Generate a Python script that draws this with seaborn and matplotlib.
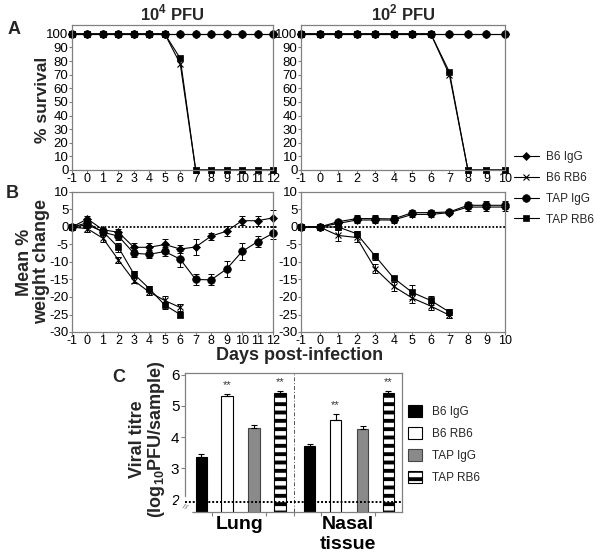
import numpy as np
import pandas as pd
import seaborn as sns
import matplotlib.pyplot as plt
import matplotlib.transforms as mtransforms
from matplotlib.lines import Line2D
from matplotlib.patches import Patch

# ---- dados ----
grupos = ['B6 IgG', 'B6 RB6', 'TAP IgG', 'TAP RB6']

# A: sobrevivencia
dias_hi = [-1, 0, 1, 2, 3, 4, 5, 6, 7, 8, 9, 10, 11, 12]   # 10^4 PFU
dias_lo = [-1, 0, 1, 2, 3, 4, 5, 6, 7, 8, 9, 10]           # 10^2 PFU

surv_hi = {
    'B6 IgG': [100, 100, 100, 100, 100, 100, 100, 100, 100, 100, 100, 100, 100, 100],
    'B6 RB6': [100, 100, 100, 100, 100, 100, 100, 78, 0, 0, 0, 0, 0, 0],
    'TAP IgG': [100, 100, 100, 100, 100, 100, 100, 100, 100, 100, 100, 100, 100, 100],
    'TAP RB6': [100, 100, 100, 100, 100, 100, 100, 82, 0, 0, 0, 0, 0, 0],
}
surv_lo = {
    'B6 IgG': [100, 100, 100, 100, 100, 100, 100, 100, 100, 100, 100, 100],
    'B6 RB6': [100, 100, 100, 100, 100, 100, 100, 100, 70, 0, 0, 0],
    'TAP IgG': [100, 100, 100, 100, 100, 100, 100, 100, 100, 100, 100, 100],
    'TAP RB6': [100, 100, 100, 100, 100, 100, 100, 100, 72, 0, 0, 0],
}

# B: variacao de peso (media e erro)
dias_hi_rb6 = [-1, 0, 1, 2, 3, 4, 5, 6]
dias_lo_rb6 = [-1, 0, 1, 2, 3, 4, 5, 6, 7]

peso_hi = {
    'B6 IgG': [0, 2.3, -0.8, -1.5, -5.8, -5.8, -5.0, -6.3, -5.7, -2.6, -1.2, 1.8, 1.8, 2.6],
    'TAP IgG': [0, 1.2, -1.5, -2.6, -7.5, -7.8, -7.0, -9.2, -15.0, -15.1, -12.0, -7.0, -4.2, -1.8],
    'B6 RB6': [0, -0.5, -3.2, -9.4, -15.3, -18.6, -21.0, -23.0],
    'TAP RB6': [0, 0.6, -1.3, -5.8, -13.4, -17.6, -22.3, -25.0],
}
erro_hi = {
    'B6 IgG': [0, 0.8, 0.6, 0.8, 1.2, 1.3, 1.5, 1.2, 2.2, 1.0, 1.5, 1.3, 1.4, 2.3],
    'TAP IgG': [0, 0.6, 0.7, 1.0, 1.0, 1.2, 1.3, 2.2, 1.6, 1.6, 2.4, 2.5, 1.5, 1.7],
    'B6 RB6': [0, 0.8, 1.0, 0.8, 0.6, 0.8, 1.2, 0.9],
    'TAP RB6': [0, 0.5, 0.8, 1.3, 0.8, 0.6, 1.0, 0.6],
}
peso_lo = {
    'B6 IgG': [0, 0, 1.0, 2.0, 2.0, 2.0, 3.6, 3.6, 4.1, 5.7, 5.7, 5.7],
    'TAP IgG': [0, 0, 1.5, 2.4, 2.4, 2.3, 4.1, 4.1, 4.3, 6.2, 6.2, 6.2],
    'B6 RB6': [0, 0, -2.4, -3.0, -11.9, -17.0, -20.3, -22.6, -25.2],
    'TAP RB6': [0, 0, 0.0, -1.9, -8.3, -14.6, -18.7, -21.0, -24.3],
}
erro_lo = {
    'B6 IgG': [0, 0, 0.6, 1.0, 1.0, 1.0, 0.8, 0.8, 0.5, 1.0, 1.1, 1.1],
    'TAP IgG': [0, 0, 0.6, 1.0, 1.0, 1.0, 0.8, 0.8, 0.5, 1.0, 1.1, 1.1],
    'B6 RB6': [0, 0, 1.5, 1.2, 1.3, 1.3, 1.3, 1.0, 0.8],
    'TAP RB6': [0, 0, 0.6, 0.8, 1.0, 0.6, 2.0, 1.2, 0.8],
}

# C: titulo viral
tecidos = ['Lung', 'Nasal\ntissue']
titulo_lung = [3.35, 5.32, 4.30, 5.40]
erro_lung = [0.12, 0.05, 0.07, 0.08]
titulo_nasal = [3.70, 4.53, 4.25, 5.40]
erro_nasal = [0.07, 0.20, 0.10, 0.07]
signif_lung = ['', '**', '', '**']
signif_nasal = ['', '**', '', '**']
limite_deteccao = 1.92

# ---- estilo ----
sns.set_style('ticks')
plt.rcParams['font.family'] = ['Liberation Sans', 'DejaVu Sans']
plt.rcParams['mathtext.fontset'] = 'custom'
plt.rcParams['mathtext.rm'] = 'Liberation Sans'
plt.rcParams['mathtext.bf'] = 'Liberation Sans:bold'
plt.rcParams['axes.unicode_minus'] = False
plt.rcParams['axes.edgecolor'] = '#808080'
plt.rcParams['axes.linewidth'] = 0.9
plt.rcParams['xtick.color'] = '#808080'
plt.rcParams['ytick.color'] = '#808080'
plt.rcParams['xtick.labelcolor'] = 'black'
plt.rcParams['ytick.labelcolor'] = 'black'
plt.rcParams['hatch.linewidth'] = 2.8

marcadores = {'B6 IgG': 'D', 'B6 RB6': 'x', 'TAP IgG': 'o', 'TAP RB6': 's'}
tamanhos = {'D': 4.5, 'x': 5, 'o': 5.5, 's': 5}

W, H = 600, 558
fig = plt.figure(figsize=(6, 5.58), dpi=100)


def eixo(x0, x1, y0, y1):
    return fig.add_axes([x0 / W, 1 - y1 / H, (x1 - x0) / W, (y1 - y0) / H])


def linhas(ax, dias, valores, erros=None):
    for g in grupos:
        d = dias[g] if isinstance(dias, dict) else dias
        if erros is not None:
            ax.errorbar(d, valores[g], yerr=erros[g], fmt='none', ecolor='black',
                        elinewidth=0.7, capsize=2, capthick=0.7, clip_on=False)
        m = marcadores[g]
        sns.lineplot(x=d, y=valores[g], color='black', marker=m,
                     markersize=tamanhos[m], markeredgecolor='black',
                     markeredgewidth=0.8 if m == 'x' else 0.5,
                     linewidth=0.8, estimator=None, ax=ax, clip_on=False)
    ax.set_xlabel('')
    ax.set_ylabel('')


def ajustar(ax, xmax):
    ax.set_xlim(-1, xmax)
    ax.set_xticks(list(range(-1, xmax + 1)))
    ax.tick_params(axis='x', labelsize=9, length=2, width=0.8, pad=0.5)
    ax.tick_params(axis='y', labelsize=9.5, length=2, width=0.8, pad=0.5)


# A
axA1 = eixo(72, 273, 25, 170)
axA2 = eixo(301, 505, 25, 170)
for ax, dias, surv, xmax in [(axA1, dias_hi, surv_hi, 12), (axA2, dias_lo, surv_lo, 10)]:
    linhas(ax, dias, surv)
    ajustar(ax, xmax)
    ax.set_ylim(0, 106.5)
    ax.set_yticks(range(0, 101, 10))
axA1.set_title('10$^{\\mathbf{4}}$ PFU', fontsize=12, fontweight='bold', pad=3)
axA2.set_title('10$^{\\mathbf{2}}$ PFU', fontsize=12, fontweight='bold', pad=3)

# B
axB1 = eixo(72, 273, 192, 332)
axB2 = eixo(301, 505, 192, 332)
dias_b_hi = {'B6 IgG': dias_hi, 'TAP IgG': dias_hi, 'B6 RB6': dias_hi_rb6, 'TAP RB6': dias_hi_rb6}
dias_b_lo = {'B6 IgG': dias_lo, 'TAP IgG': dias_lo, 'B6 RB6': dias_lo_rb6, 'TAP RB6': dias_lo_rb6}
for ax, dias, peso, erro, xmax in [(axB1, dias_b_hi, peso_hi, erro_hi, 12),
                                   (axB2, dias_b_lo, peso_lo, erro_lo, 10)]:
    ax.axhline(0, color='black', linestyle=(0, (1, 1)), linewidth=1.3, zorder=1)
    linhas(ax, dias, peso, erro)
    ajustar(ax, xmax)
    ax.set_ylim(-30, 10)
    ax.set_yticks(range(-30, 11, 5))

# legenda A/B
alcas = [Line2D([], [], color='black', lw=0.8, marker=marcadores[g],
                markersize=tamanhos[marcadores[g]], markeredgecolor='black',
                markeredgewidth=0.8 if g == 'B6 RB6' else 0.5) for g in grupos]
fig.legend(alcas, grupos, loc='upper left', bbox_to_anchor=(514 / W, 1 - 151 / H),
           frameon=False, fontsize=8.5, handlelength=2.1, handletextpad=0.6,
           labelspacing=0.75, borderpad=0, borderaxespad=0)

# rotulos
fig.text(8 / W, 1 - 30 / H, 'A', fontsize=13, fontweight='bold', va='center')
fig.text(6 / W, 1 - 193 / H, 'B', fontsize=13, fontweight='bold', va='center')
fig.text(112 / W, 1 - 378 / H, 'C', fontsize=13, fontweight='bold', va='center')
fig.text(42 / W, 1 - 100 / H, '% survival', fontsize=12.5, fontweight='bold',
         rotation=90, ha='center', va='center')
fig.text(33 / W, 1 - 262 / H, 'Mean %\nweight change', fontsize=13, fontweight='bold',
         rotation=90, ha='center', va='center', linespacing=1.0)
fig.text(300 / W, 1 - 355 / H, 'Days post-infection', fontsize=13, fontweight='bold',
         ha='center', va='center')

# C
axC = eixo(185, 402, 373, 512)
offsets = [-1.4, -0.45, 0.55, 1.5]
centros = [2, 6]
estilos = [dict(color='black', edgecolor='black'),
           dict(color='white', edgecolor='black'),
           dict(color='#8a8a8a', edgecolor='#444444'),
           dict(color='white', edgecolor='black', hatch='--')]
for c, vals, errs, sig in [(centros[0], titulo_lung, erro_lung, signif_lung),
                           (centros[1], titulo_nasal, erro_nasal, signif_nasal)]:
    for i in range(4):
        x = c + offsets[i]
        axC.bar(x, vals[i], width=0.42, linewidth=0.8, zorder=2, **estilos[i])
        axC.errorbar(x, vals[i], yerr=[[0], [errs[i]]], fmt='none', ecolor='black',
                     elinewidth=0.8, capsize=2.5, capthick=0.8, zorder=3)
        if sig[i]:
            axC.text(x, vals[i] + errs[i] + 0.28, sig[i], ha='center', va='center',
                     fontsize=8, color='#333333')
axC.axhline(limite_deteccao, color='black', linestyle=(0, (1, 1)), linewidth=1.4, zorder=4)
axC.axvline(4, color='#555555', linestyle=(0, (4, 2, 1, 2)), linewidth=0.7, zorder=1)
axC.set_xlim(0, 8)
axC.set_ylim(1.6, 6.05)
axC.set_yticks([2, 3, 4, 5, 6])
axC.set_xticks(centros, tecidos)
axC.set_xticks([1, 3, 4, 5, 7], minor=True)
axC.tick_params(axis='x', which='major', length=0, labelsize=14, pad=3)
axC.tick_params(axis='x', which='minor', length=3, width=0.8)
axC.tick_params(axis='y', labelsize=11, length=3, width=0.8, pad=1)
for t in axC.get_xticklabels():
    t.set_fontweight('bold')
trans = mtransforms.blended_transform_factory(axC.transAxes, axC.transData)
axC.text(0, 1.75, '//', transform=trans, ha='center', va='center', fontsize=6,
         rotation=-20, color='#555555', backgroundcolor='white', clip_on=False)
fig.text(148 / W, 1 - 439 / H, 'Viral titre\n(log$_{\\mathbf{10}}$PFU/sample)',
         fontsize=13, fontweight='bold', rotation=90, ha='center', va='center',
         linespacing=1.05)

alcas_c = [Patch(facecolor=e['color'], edgecolor=e['edgecolor'], hatch=e.get('hatch'),
                 linewidth=0.8) for e in estilos]
fig.legend(alcas_c, grupos, loc='upper left', bbox_to_anchor=(408 / W, 1 - 405 / H),
           frameon=False, fontsize=8.5, handlelength=1.2, handleheight=1.2,
           handletextpad=0.8, labelspacing=0.75, borderpad=0, borderaxespad=0)

fig.savefig('out.png', dpi=100)
